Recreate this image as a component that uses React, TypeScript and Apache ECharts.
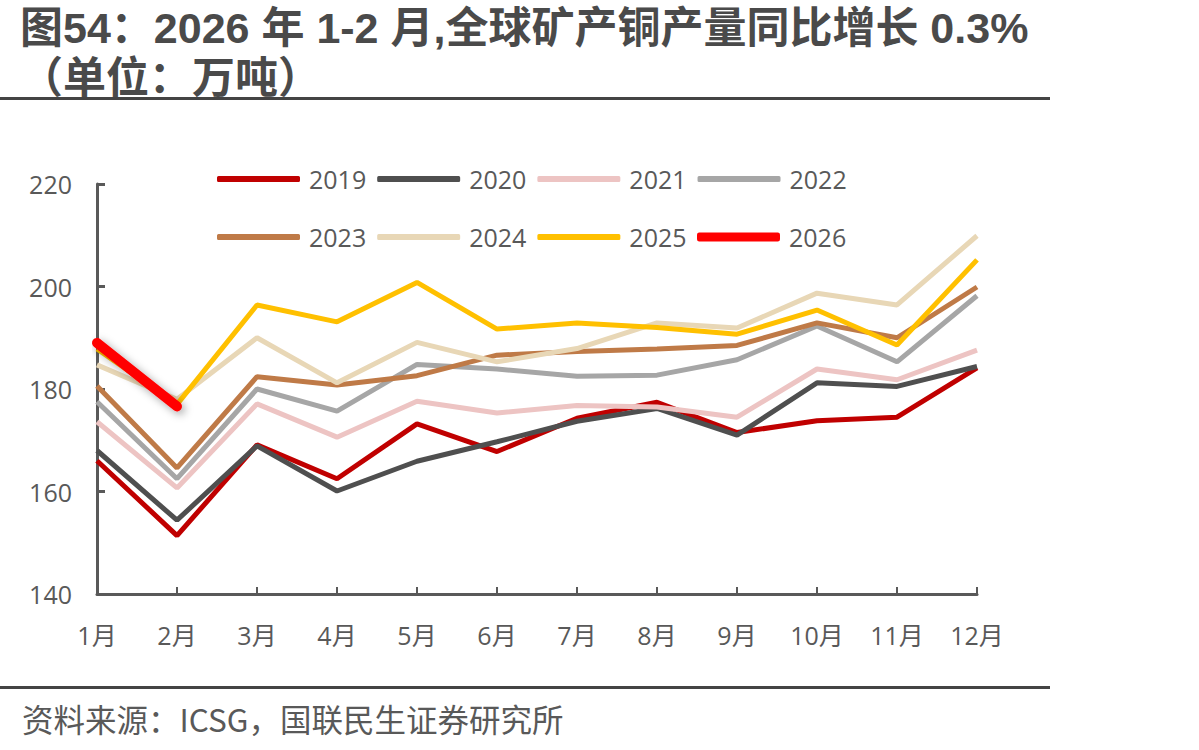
import React, { useEffect, useRef } from "react";
import * as echarts from "echarts";

// Monthly global mined copper output, 10k tonnes
const months = ["1月", "2月", "3月", "4月", "5月", "6月", "7月", "8月", "9月", "10月", "11月", "12月"];
const years = ["2019", "2020", "2021", "2022", "2023", "2024", "2025", "2026"];

const v2019 = [166.0, 151.4, 169.1, 162.5, 173.2, 167.8, 174.3, 177.4, 171.5, 173.8, 174.5, 184.1];
const v2020 = [168.0, 154.4, 168.9, 160.1, 165.9, 169.7, 173.7, 176.2, 171.0, 181.2, 180.5, 184.4];
const v2021 = [173.6, 160.7, 177.1, 170.6, 177.6, 175.3, 176.8, 176.5, 174.5, 183.9, 181.8, 187.6];
const v2022 = [177.5, 162.5, 180.0, 175.7, 184.8, 183.9, 182.5, 182.7, 185.7, 192.3, 185.3, 198.2];
const v2023 = [180.6, 164.6, 182.4, 180.8, 182.6, 186.6, 187.3, 187.8, 188.5, 192.9, 190.0, 199.9];
const v2024 = [184.7, 178.0, 190.0, 181.2, 189.1, 185.3, 187.9, 192.9, 191.9, 198.7, 196.4, 209.9];
const v2025 = [187.8, 177.0, 196.4, 193.1, 200.8, 191.7, 192.9, 192.0, 190.7, 195.4, 188.6, 205.2];
const v2026 = [189.0, 176.6];

const yTicks = { min: 140, max: 220, interval: 20 };

const seriesValues = [v2019, v2020, v2021, v2022, v2023, v2024, v2025, v2026];
const seriesColors = ["#C00000", "#4F4F4F", "#EDC4C3", "#A6A6A6", "#BF7A47", "#E8D7B6", "#FFC000", "#FF0000"];

const titleLine1 = "图54：2026 年 1-2 月,全球矿产铜产量同比增长 0.3%";
const titleLine2 = "（单位：万吨）";
const sourceText = "资料来源：ICSG，国联民生证券研究所";

const TEXT = "#595959";
const AXIS = "#595959";
const TITLE = "#4A4A4A";
const FONT = "'Open Sans', 'Noto Sans CJK SC', sans-serif";
const TITLE_FONT = "'Liberation Sans', 'Noto Sans CJK SC', sans-serif";
const CJK = "'Noto Sans CJK SC', sans-serif";

export default function App() {
  const ref = useRef<HTMLDivElement>(null);

  useEffect(() => {
    if (!ref.current) return;
    const chart = echarts.init(ref.current, undefined, { renderer: "svg" });

    const legendCommon = {
      orient: "horizontal" as const,
      icon: "roundRect",
      itemWidth: 83,
      itemHeight: 6,
      itemGap: 11,
      padding: 0,
      textStyle: { fontSize: 25, color: TEXT, fontFamily: FONT, lineHeight: 30, padding: [0, 0, 0, 4] },
    };

    const titleStyle = {
      fontFamily: TITLE_FONT,
      fontSize: 43,
      lineHeight: 46,
      fontWeight: "bold",
      fill: TITLE,
      verticalAlign: "middle",
    };

    chart.setOption({
      animation: false,
      backgroundColor: "#ffffff",
      graphic: [
        { type: "text", x: 20, y: 28, style: { ...titleStyle, text: titleLine1 } },
        { type: "text", x: 20, y: 78, style: { ...titleStyle, text: titleLine2 } },
        { type: "rect", left: 0, top: 97, shape: { width: 1050, height: 3 }, style: { fill: "#444444" } },
        { type: "rect", left: 0, top: 686, shape: { width: 1050, height: 3 }, style: { fill: "#444444" } },
        {
          type: "text",
          x: 22,
          y: 718,
          style: { text: sourceText, fontFamily: CJK, fontSize: 31.5, lineHeight: 36, fill: TEXT, verticalAlign: "middle" },
        },
      ],
      legend: [
        { ...legendCommon, data: years.slice(0, 4), left: 217, top: 164 },
        { ...legendCommon, data: years.slice(4, 7), left: 217, top: 222 },
        { ...legendCommon, data: years.slice(7), left: 697, top: 222, itemHeight: 9 },
      ],
      grid: { left: 97, right: 222, top: 184, bottom: 156, containLabel: false },
      xAxis: {
        type: "category",
        data: months,
        boundaryGap: false,
        axisLine: { show: true, lineStyle: { color: AXIS, width: 3 } },
        axisTick: { show: true, inside: true, length: 7, lineStyle: { color: AXIS, width: 2 } },
        axisLabel: { interval: 0, margin: 28, fontSize: 25, color: TEXT, fontFamily: FONT },
        splitLine: { show: false },
      },
      yAxis: {
        type: "value",
        min: yTicks.min,
        max: yTicks.max,
        interval: yTicks.interval,
        axisLine: { show: true, lineStyle: { color: AXIS, width: 3 } },
        axisTick: { show: true, inside: true, length: 8, lineStyle: { color: AXIS, width: 3 } },
        axisLabel: { margin: 25, fontSize: 25, color: TEXT, fontFamily: FONT },
        splitLine: { show: false },
      },
      series: years.map((name, i) => {
        const isLatest = i === years.length - 1;
        return {
          name,
          type: "line",
          data: seriesValues[i],
          symbol: "none",
          color: seriesColors[i],
          lineStyle: isLatest
            ? {
                color: seriesColors[i],
                width: 10,
                cap: "round",
                join: "round",
                shadowColor: "rgba(0,0,0,0.35)",
                shadowBlur: 8,
                shadowOffsetX: 3,
                shadowOffsetY: 3,
              }
            : { color: seriesColors[i], width: 5 },
          z: 2 + i,
        };
      }),
    });

    return () => chart.dispose();
  }, []);

  return (
    <div
      ref={ref}
      style={{ position: "absolute", left: 0, top: 0, width: 1199, height: 750, background: "#fff" }}
    />
  );
}
